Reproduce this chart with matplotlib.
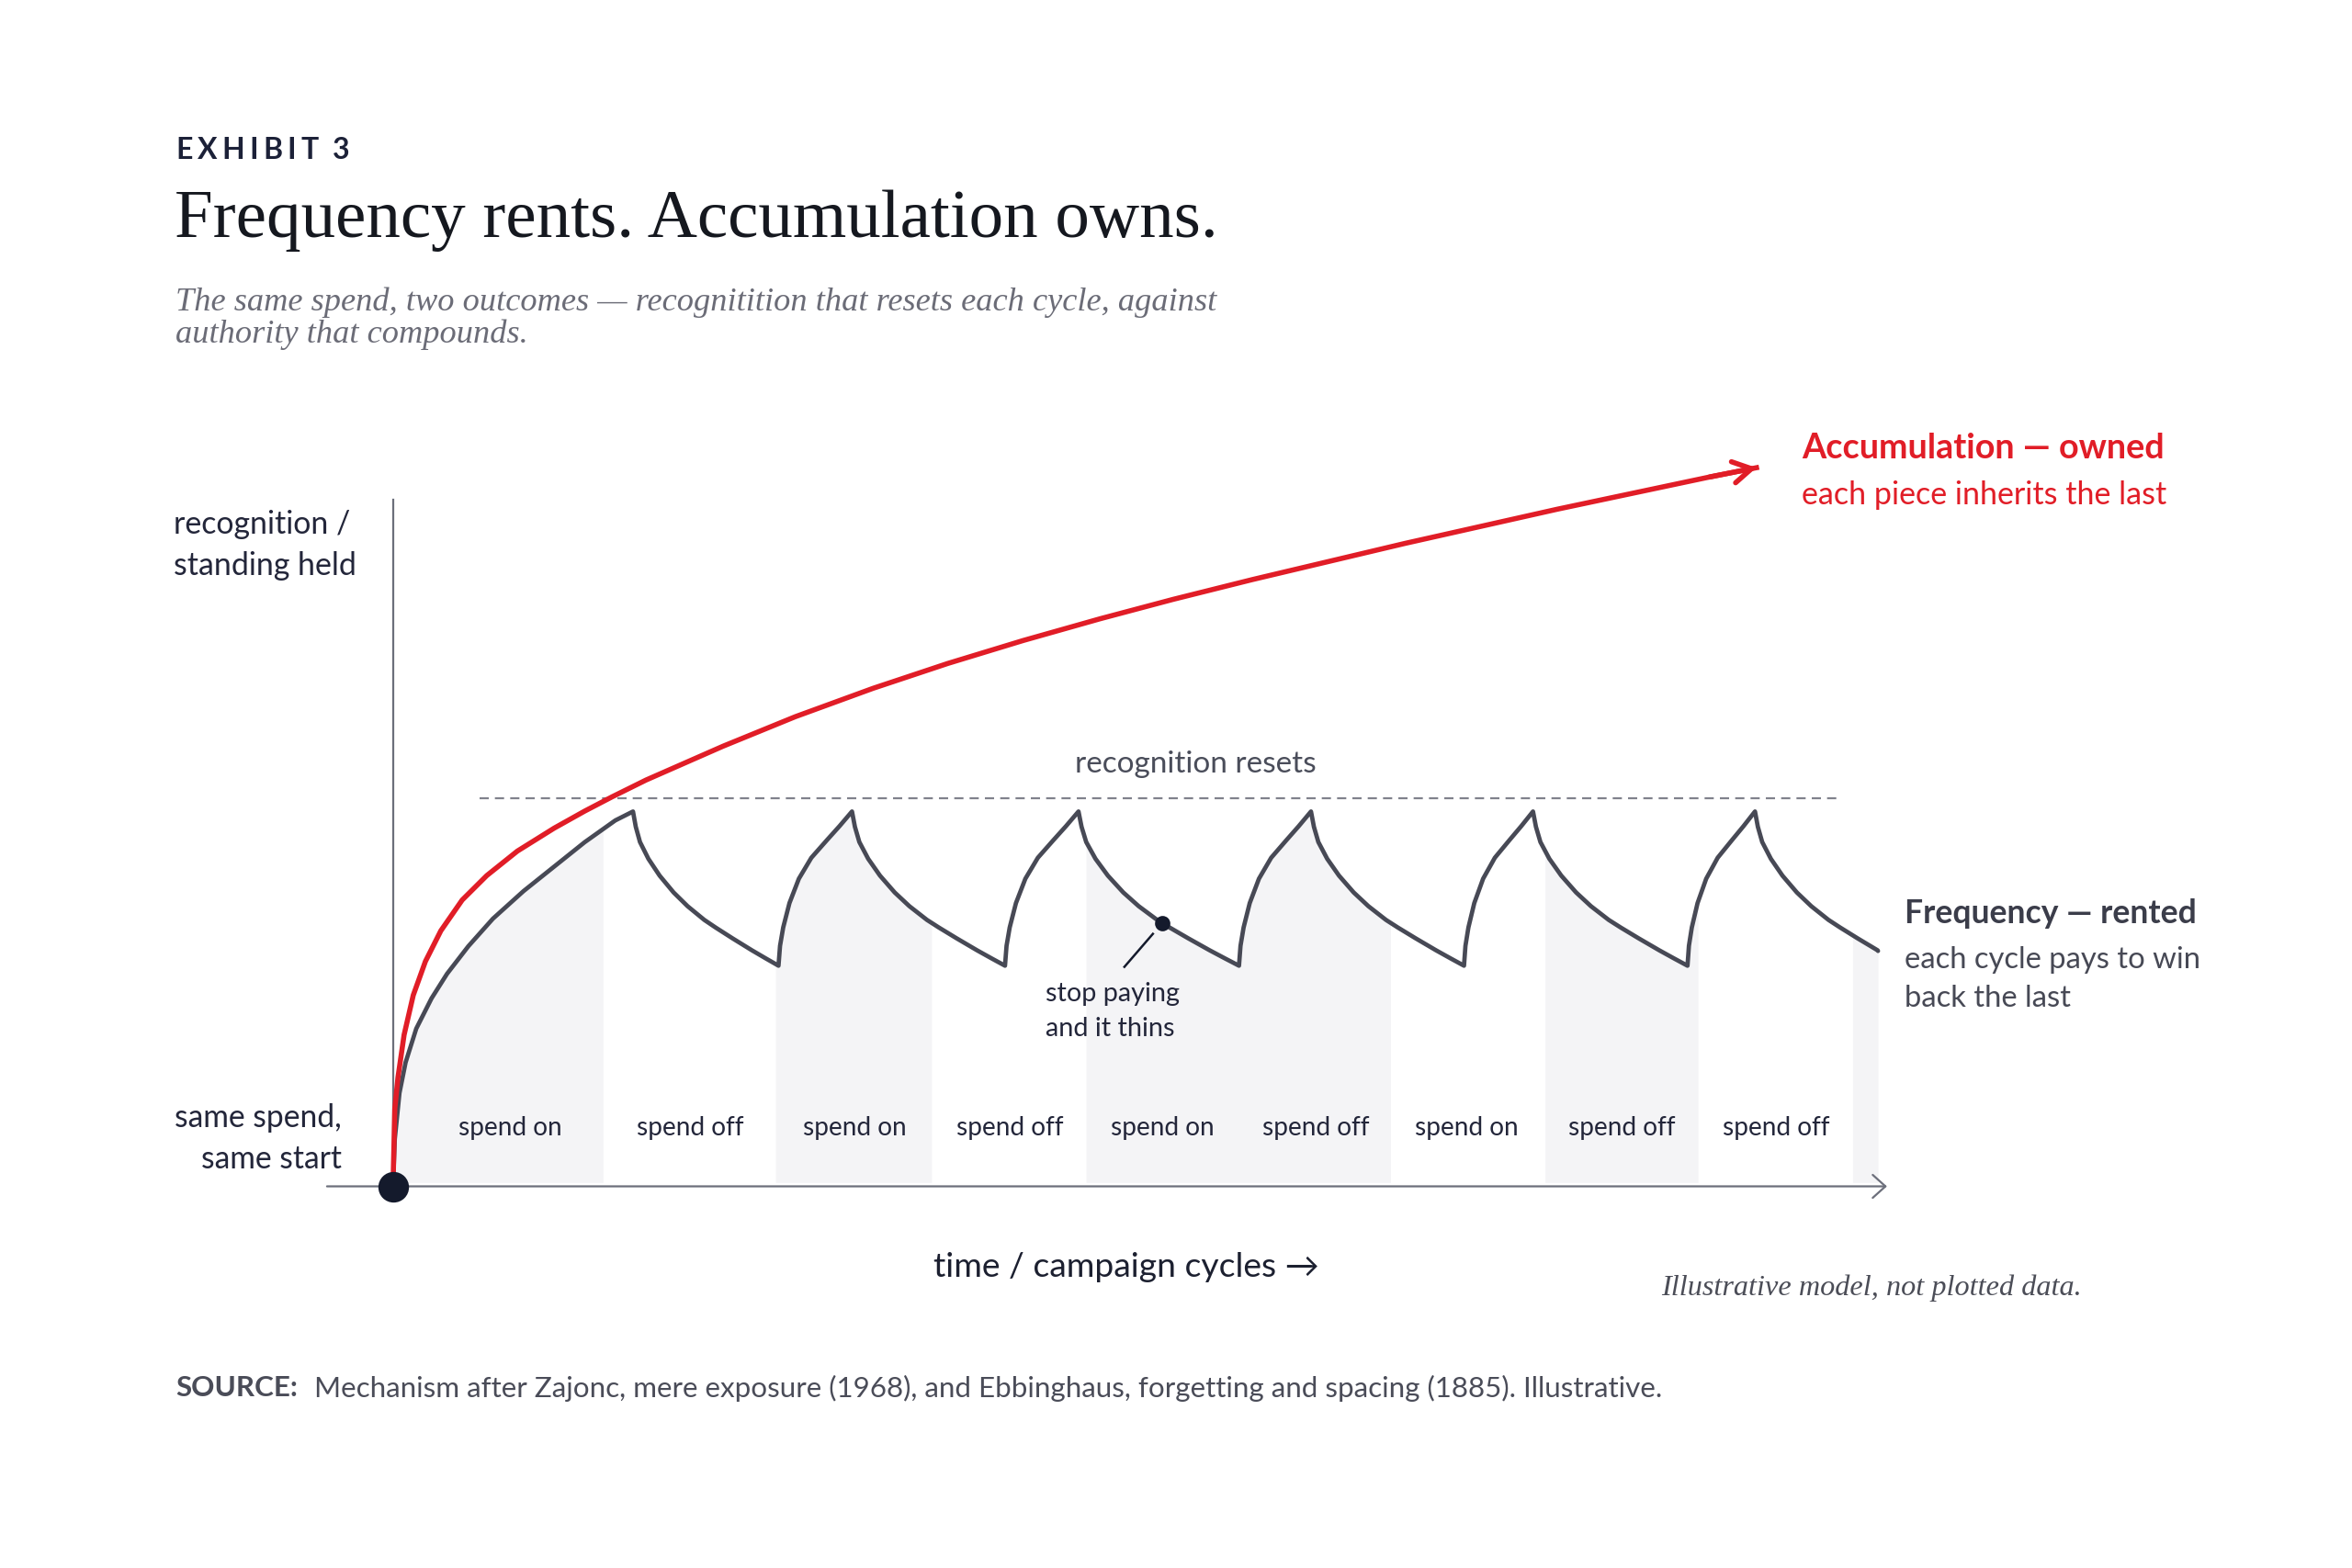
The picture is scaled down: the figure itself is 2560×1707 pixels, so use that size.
import matplotlib
matplotlib.use("Agg")
import matplotlib.pyplot as plt
import numpy as np

SANS = ["Lato", "DejaVu Sans"]
SERIF = ["Liberation Serif", "DejaVu Serif"]
INK = "#1c2138"; CURVE = "#474955"; RED = "#e11d27"; AXIS = "#6c6f7b"
MUTED = "#6b6c77"; BAND = "#f4f4f6"; TXT = "#23263a"

# time in campaign-cycle units, level 1.0 = the "recognition resets" ceiling
# accumulation (owned) curve
ACC_T = [0, 0.012, 0.033, 0.074, 0.135, 0.216, 0.319, 0.461, 0.625, 0.829, 1.074, 1.278,
         1.462, 1.687, 2.2, 2.682, 3.2, 3.698, 4.2, 4.713, 5.2, 5.729, 6.745, 7.76, 8.776, 9.09]
ACC_Y = [0, 0.20, 0.28, 0.39, 0.492, 0.579, 0.658, 0.737, 0.80, 0.863, 0.922, 0.966,
         1.003, 1.046, 1.133, 1.209, 1.282, 1.346, 1.405, 1.461, 1.511, 1.562, 1.655,
         1.743, 1.826, 1.850]

# frequency (rented): first climb, then the repeating decay / rebuild cycle
FIRST_T = [0, 0.012, 0.043, 0.084, 0.155, 0.257, 0.36, 0.502, 0.666, 0.87, 1.074, 1.278, 1.482, 1.60]
FIRST_Y = [0, 0.122, 0.24, 0.319, 0.406, 0.484, 0.547, 0.618, 0.689, 0.76, 0.823, 0.886, 0.942, 0.965]
PEAK_T = [1.60, 3.06, 4.57, 6.12, 7.60, 9.08]
TROUGH_T = [2.57, 4.08, 5.64, 7.14, 8.63]
PEAK_Y, TROUGH_Y = 0.965, 0.568
END_T, END_Y = 9.90, 0.606
# shape of one decay / one rebuild (share of segment time -> share of the drop / climb)
DECAY_S = [0, 0.019, 0.048, 0.106, 0.183, 0.279, 0.375, 0.49, 0.567, 0.683, 0.817, 0.913, 1]
DECAY_F = [0, 0.099, 0.198, 0.307, 0.416, 0.525, 0.614, 0.703, 0.752, 0.822, 0.90, 0.953, 1]
RISE_S = [0, 0.021, 0.064, 0.149, 0.277, 0.447, 0.66, 0.83, 1]
RISE_F = [0, 0.129, 0.248, 0.406, 0.564, 0.70, 0.815, 0.905, 1]

BAND_EDGES = [0, 1.40, 2.55, 3.59, 4.62, 5.64, 6.65, 7.68, 8.70, 9.73, 9.90]
BAND_SHADED = [1, 0, 1, 0, 1, 1, 0, 1, 0, 1]
LABEL_T = [0.78, 1.98, 3.08, 4.11, 5.13, 6.15, 7.16, 8.19, 9.22]
BAND_LABELS = ["spend on", "spend off", "spend on", "spend off", "spend on",
               "spend off", "spend on", "spend off", "spend off"]
STOP_T = 5.13

def seg(t0, t1, y0, y1, s, f):
    return list(t0 + (t1 - t0) * np.array(s)), list(y0 + (y1 - y0) * np.array(f))

ft, fy = list(FIRST_T), list(FIRST_Y)
for i, tr in enumerate(TROUGH_T):
    a, b = seg(PEAK_T[i], tr, PEAK_Y, TROUGH_Y, DECAY_S, DECAY_F); ft += a[1:]; fy += b[1:]
    a, b = seg(tr, PEAK_T[i + 1], TROUGH_Y, PEAK_Y, RISE_S, RISE_F); ft += a[1:]; fy += b[1:]
a, b = seg(PEAK_T[-1], PEAK_T[-1] + 1.0, PEAK_Y, TROUGH_Y, DECAY_S, DECAY_F)
for t, y in zip(a[1:], b[1:]):
    if t < END_T: ft.append(t); fy.append(y)
ft.append(END_T); fy.append(END_Y)
ft, fy = np.array(ft), np.array(fy)

fig = plt.figure(figsize=(12.8, 8.535), dpi=200)
ax = fig.add_axes([0, 0, 1, 1])
# whole-figure axes: 1 time unit = 163.3 px, 1 level unit = 422.9 px, origin at (428, 1291) px
ax.set_xlim(-2.62, 13.06); ax.set_ylim(-0.9825, 3.054); ax.axis("off")

for k, sh in enumerate(BAND_SHADED):
    if not sh: continue
    lo, hi = BAND_EDGES[k], BAND_EDGES[k + 1]
    m = (ft > lo) & (ft < hi)
    xs = np.r_[lo, ft[m], hi]; ys = np.r_[np.interp(lo, ft, fy), fy[m], np.interp(hi, ft, fy)]
    ax.fill_between(xs, 0.01, ys, color=BAND, lw=0, zorder=1)
for t, lab in zip(LABEL_T, BAND_LABELS):
    ax.text(t, 0.15, lab, ha="center", va="center", fontsize=10.1, family=SANS, color=TXT, zorder=3)

# axes
ax.plot([0, 0], [0, 1.768], color=AXIS, lw=0.8, zorder=2)
ax.annotate("", xy=(9.96, 0), xytext=(-0.44, 0), zorder=2,
            arrowprops=dict(arrowstyle="->,head_length=0.5,head_width=0.45", lw=0.8,
                            color=AXIS, shrinkA=0, shrinkB=0))
ax.plot([0.58, 9.63], [1, 1], color="#80828c", lw=0.8, ls=(0, (4.5, 3)), zorder=2)
ax.text(5.35, 1.087, "recognition resets", ha="center", va="center", fontsize=12,
        family=SANS, color="#4a4d5a")

ax.plot(ft, fy, color=CURVE, lw=1.7, solid_joinstyle="round", solid_capstyle="round", zorder=4)
ax.plot(ACC_T, ACC_Y, color=RED, lw=2.0, solid_joinstyle="round", zorder=5)
ax.annotate("", xy=(ACC_T[-1], ACC_Y[-1]), xytext=(ACC_T[-2], ACC_Y[-2]), zorder=5,
            arrowprops=dict(arrowstyle="->,head_length=0.6,head_width=0.35", lw=2.0,
                            color=RED, shrinkA=0, shrinkB=0, mutation_scale=12))
ax.plot(0, 0, "o", ms=11, color="#141a2c", zorder=6, clip_on=False)

sy = np.interp(STOP_T, ft, fy)
ax.plot(STOP_T, sy, "o", ms=5, color="#141a2c", zorder=6)
ax.plot([5.066, 4.876], [0.650, 0.565], color="#141a2c", lw=0.9, zorder=6)
ax.text(4.35, 0.45, "stop paying\nand it thins", ha="left", va="center", fontsize=10.4,
        family=SANS, color=TXT, linespacing=1.57)

ax.text(-1.46, 1.65, "recognition /\nstanding held", ha="left", va="center", fontsize=12.2,
        family=SANS, color=TXT, linespacing=1.51)
ax.text(-0.34, 0.123, "same spend,\nsame start", ha="right", va="center", fontsize=12.1,
        family=SANS, color=TXT, linespacing=1.47, multialignment="right")

ax.text(9.39, 1.90, "Accumulation \u2014 owned", ha="left", va="center", fontsize=13.6,
        family=SANS, weight="bold", color=RED)
ax.text(9.39, 1.78, "each piece inherits the last", ha="left", va="center", fontsize=12.25,
        family=SANS, color=RED)
ax.text(10.08, 0.703, "Frequency \u2014 rented", ha="left", va="center", fontsize=12.8,
        family=SANS, weight="bold", color="#3b3d4a")
ax.text(10.08, 0.533, "each cycle pays to win\nback the last", ha="left", va="center",
        fontsize=11.8, family=SANS, color="#474955", linespacing=1.51)

ax.text(4.89, -0.2085, "time / campaign cycles \u2192", ha="center", va="center", fontsize=13.4,
        family=SANS, color="#1c2030")
ax.text(11.26, -0.2625, "Illustrative model, not plotted data.", ha="right", va="center",
        fontsize=11.6, family=SERIF, style="italic", color="#4b4d57")

# header -- EXHIBIT label is letter-spaced, so set it glyph by glyph
W = fig.bbox.width
rend = fig.canvas.get_renderer()
x = 0.0746
for ch in "EXHIBIT 3":
    if ch == " ":
        x += 10 / W; continue
    t = fig.text(x, 0.9045, ch, ha="left", va="center", fontsize=11.5, family=SANS,
                 weight="bold", color=INK)
    x += (t.get_window_extent(rend).width + 5.2) / W
fig.text(0.0742, 0.8594, "Frequency rents. Accumulation owns.", ha="left", va="center",
         fontsize=27, family=SERIF, color="#15181f")
fig.text(0.0746, 0.797, "The same spend, two outcomes \u2014 recognitition that resets each cycle, against\n"
         "authority that compounds.", ha="left", va="center", fontsize=13.1, family=SERIF,
         style="italic", color=MUTED, linespacing=1.08)

# footer
src = fig.text(0.0746, 0.1148, "SOURCE:", ha="left", va="center", fontsize=11.3, family=SANS,
               weight="bold", color="#4a4c58")
bb = src.get_window_extent(rend)
fig.text((bb.x1 + 18) / W, 0.1148,
         "Mechanism after Zajonc, mere exposure (1968), and Ebbinghaus, forgetting and spacing (1885). Illustrative.",
         ha="left", va="center", fontsize=11.3, family=SANS, color="#4a4c58")

fig.savefig("out.png", dpi=200, facecolor="white")
